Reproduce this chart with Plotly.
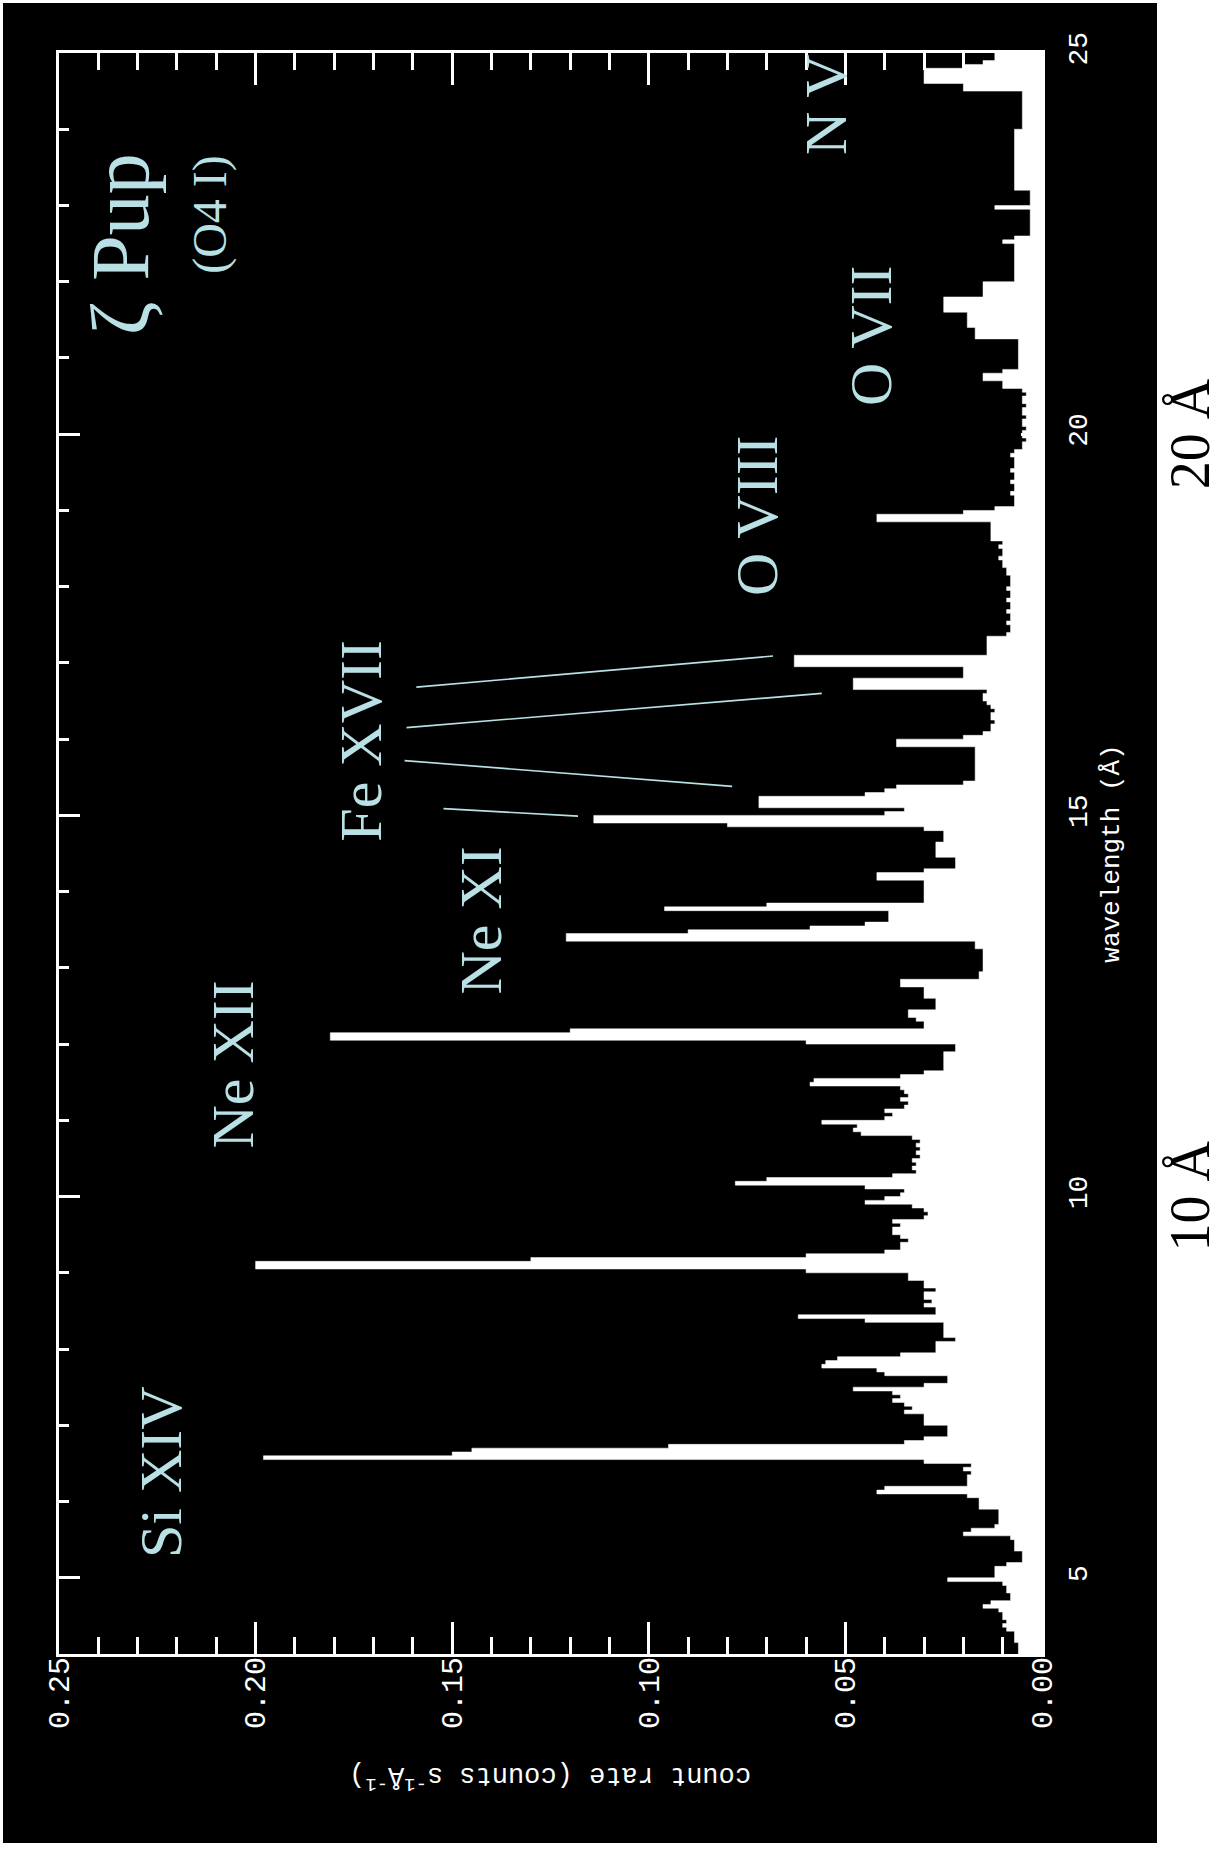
import plotly.graph_objects as go

# ---------------- data (count rate in units of 1e-3 counts s^-1 A^-1) ----------------
wl_first = 4.0      # first bin start (Angstrom)
bin_width = 0.05    # Angstrom

rate_4 = [6, 6, 6, 7, 7, 7, 9, 10, 9, 10, 10, 11, 15, 13, 8, 8, 9, 9, 10, 24]
rate_5 = [12, 12, 12, 9, 5, 5, 5, 7, 7, 7, 8, 20, 18, 12, 11, 11, 11, 11, 16, 16]
rate_6 = [16, 19, 42, 40, 19, 19, 19, 18, 20, 18, 30, 198, 150, 145, 95, 35, 30, 24, 24, 24]
rate_7 = [30, 30, 30, 35, 33, 35, 38, 36, 38, 48, 30, 24, 24, 40, 42, 56, 55, 52, 36, 27]
rate_8 = [27, 27, 22, 25, 25, 25, 25, 45, 62, 27, 27, 30, 28, 30, 30, 27, 30, 30, 34, 34]
rate_9 = [60, 200, 200, 130, 60, 40, 36, 36, 34, 36, 38, 38, 36, 38, 30, 29, 30, 33, 45, 40]
rate_10 = [36, 35, 45, 78, 70, 38, 32, 33, 32, 33, 31, 32, 31, 32, 31, 33, 46, 48, 47, 56]
rate_11 = [40, 38, 40, 35, 34, 36, 34, 35, 36, 59, 58, 36, 30, 25, 25, 25, 25, 25, 22, 22]
rate_12 = [60, 181, 181, 120, 30, 30, 32, 34, 34, 27, 27, 27, 30, 30, 30, 36, 36, 16, 16, 15]
rate_13 = [15, 15, 15, 15, 15, 17, 17, 121, 121, 90, 59, 45, 39, 39, 39, 96, 70, 30, 30, 30]
rate_14 = [30, 30, 30, 42, 42, 30, 22, 22, 22, 27, 27, 27, 27, 25, 25, 25, 30, 80, 114, 114]
rate_15 = [40, 35, 72, 72, 72, 45, 40, 37, 20, 17, 17, 17, 17, 17, 17, 17, 17, 17, 37, 37]
rate_16 = [20, 15, 13, 13, 12, 13, 13, 12, 13, 14, 15, 15, 14, 48, 48, 48, 20, 20, 20, 63]
rate_17 = [63, 63, 14, 14, 14, 14, 14, 9, 8, 8, 9, 8, 8, 9, 8, 8, 9, 8, 8, 9]
rate_18 = [8, 8, 8, 9, 9, 10, 10, 11, 10, 10, 11, 10, 13, 13, 13, 13, 13, 42, 42, 20]
rate_19 = [12, 7, 7, 7, 8, 7, 7, 8, 7, 7, 8, 7, 7, 7, 8, 7, 5, 5, 4, 5]
rate_20 = [5, 4, 5, 5, 4, 5, 5, 4, 5, 5, 4, 5, 10, 10, 15, 15, 10, 6, 6, 6]
rate_21 = [6, 6, 6, 6, 6, 17, 17, 17, 19, 19, 19, 19, 25, 25, 25, 25, 15, 15, 15, 15]
rate_22 = [7, 7, 7, 7, 7, 7, 7, 7, 7, 7, 10, 7, 3, 3, 3, 3, 3, 3, 3, 12]
rate_23 = [3, 3, 3, 3, 7, 7, 7, 7, 7, 7, 7, 7, 7, 7, 7, 7, 7, 7, 7, 7]
rate_24 = [5, 5, 5, 5, 5, 5, 5, 5, 5, 5, 20, 20, 30, 30, 30, 30, 20, 15, 12, 12]

rate_rows = [rate_4, rate_5, rate_6, rate_7, rate_8, rate_9, rate_10, rate_11,
             rate_12, rate_13, rate_14, rate_15, rate_16, rate_17, rate_18,
             rate_19, rate_20, rate_21, rate_22, rate_23, rate_24]

rate_ticks = [0.00, 0.05, 0.10, 0.15, 0.20, 0.25]
rate_tick_text = ["0.00", "0.05", "0.10", "0.15", "0.20", "0.25"]

ion_labels = ["Si XIV", "Ne XII", "Ne XI", "Fe XVII", "O VIII", "O VII", "N V"]
ion_label_rate = [0.2240, 0.2058, 0.1427, 0.1732, 0.0725, 0.0435, 0.0549]
ion_label_wl = [6.39, 11.73, 13.62, 15.98, 18.94, 21.30, 24.32]

# Fe XVII pointer lines: (label end) -> (line end)
fe_start_rate = [0.1526, 0.1625, 0.1620, 0.1595]
fe_start_wl = [15.09, 15.72, 16.15, 16.68]
fe_end_rate = [0.1180, 0.0788, 0.0560, 0.0684]
fe_end_wl = [14.99, 15.38, 16.60, 17.09]

marker_wl = [10, 20]
marker_text = ["10 Å", "20 Å"]

# ---------------- build step outline ----------------
rates = [v / 1000.0 for row in rate_rows for v in row]
xs, ys = [0.0], [wl_first]
for i, r in enumerate(rates):
    lo = wl_first + i * bin_width
    hi = lo + bin_width
    xs += [r, r]
    ys += [lo, hi]
xs.append(0.0)
ys.append(wl_first + len(rates) * bin_width)

fig = go.Figure()
fig.add_trace(go.Scatter(x=xs, y=ys, mode="lines", fill="toself",
                         fillcolor="white", line=dict(color="white", width=0.5),
                         hoverinfo="skip"))

LIGHT = "#b9e0e4"
MONO = "Liberation Mono"
SERIF = "Liberation Serif"

W, H = 1222, 1849
L, R, T, B = 59, 180, 53, 195
pw, ph = W - L - R, H - T - B

def px_to_paper_x(px):
    return (px - L) / pw

def px_to_paper_y(py):
    return (H - B - py) / ph

fig.update_layout(
    width=W, height=H, autosize=False,
    margin=dict(l=L, r=R, t=T, b=B, autoexpand=False),
    paper_bgcolor="white", plot_bgcolor="black", showlegend=False,
    xaxis=dict(range=[0.25, 0.0], showline=True, linecolor="white", linewidth=3,
               mirror="allticks", ticks="inside", ticklen=32, tickwidth=3,
               tickcolor="white", tickmode="array", tickvals=rate_ticks,
               ticktext=rate_tick_text, tickangle=-90,
               tickfont=dict(family=MONO, size=30, color="white"),
               minor=dict(tickmode="linear", tick0=0, dtick=0.01, ticklen=17,
                          tickwidth=3, tickcolor="white", ticks="inside"),
               showgrid=False, zeroline=False, ticklabelstandoff=-12),
    yaxis=dict(range=[4, 25], side="right", showline=True, linecolor="white",
               linewidth=3, mirror="allticks", ticks="inside", ticklen=21,
               tickwidth=3, tickcolor="white", tickmode="linear", tick0=0, dtick=5,
               tickangle=-90, tickfont=dict(family=MONO, size=28, color="white"),
               minor=dict(tickmode="linear", tick0=0, dtick=1, ticklen=10,
                          tickwidth=3, tickcolor="white", ticks="inside"),
               showgrid=False, zeroline=False, ticklabelstandoff=8,
               title=dict(text="wavelength (Å)", standoff=8,
                          font=dict(family=MONO, size=26, color="white"))),
)

# black card behind the plot (the right margin and thin edges stay white)
fig.add_shape(type="rect", xref="paper", yref="paper",
              x0=px_to_paper_x(3), x1=px_to_paper_x(1157),
              y0=px_to_paper_y(1843), y1=px_to_paper_y(3),
              fillcolor="black", line=dict(width=0), layer="below")

# count-rate axis title (upside down, as in the rotated original)
fig.add_annotation(xref="paper", yref="paper", x=0.5, y=px_to_paper_y(1778),
                   xanchor="center", yanchor="middle",
                   text="count rate (counts s<sup>-1</sup>Å<sup>-1</sup>)",
                   textangle=180, showarrow=False,
                   font=dict(family=MONO, size=27, color="white"))

# ion labels
for txt, xr, yw in zip(ion_labels, ion_label_rate, ion_label_wl):
    fig.add_annotation(x=xr, y=yw, xref="x", yref="y", text=txt, textangle=-90,
                       xanchor="center", yanchor="middle", showarrow=False,
                       font=dict(family=SERIF, size=60, color=LIGHT))

# star name
fig.add_annotation(x=0.2345, y=22.49, xref="x", yref="y", text="ζ Pup", textangle=-90,
                   xanchor="center", yanchor="middle", showarrow=False,
                   font=dict(family=SERIF, size=82, color=LIGHT))
fig.add_annotation(x=0.2116, y=22.89, xref="x", yref="y", text="(O4 I)", textangle=-90,
                   xanchor="center", yanchor="middle", showarrow=False,
                   font=dict(family=SERIF, size=48, color=LIGHT))

# Fe XVII pointer lines
for sx, sy, ex, ey in zip(fe_start_rate, fe_start_wl, fe_end_rate, fe_end_wl):
    fig.add_annotation(x=ex, y=ey, ax=sx, ay=sy, xref="x", yref="y",
                       axref="x", ayref="y", text="", showarrow=True,
                       arrowhead=0, arrowwidth=1.6, arrowcolor=LIGHT)

# 10 A / 20 A marks in the white margin
for wl, txt in zip(marker_wl, marker_text):
    fig.add_annotation(xref="paper", yref="y", x=px_to_paper_x(1190), y=wl,
                       xanchor="center", yanchor="middle",
                       text=txt, textangle=-90, showarrow=False,
                       font=dict(family=SERIF, size=56, color="black"))

fig.write_html("out.html", config={"displayModeBar": False},
               post_script="document.body.style.margin='0';"
                           "document.body.style.overflow='hidden';")
